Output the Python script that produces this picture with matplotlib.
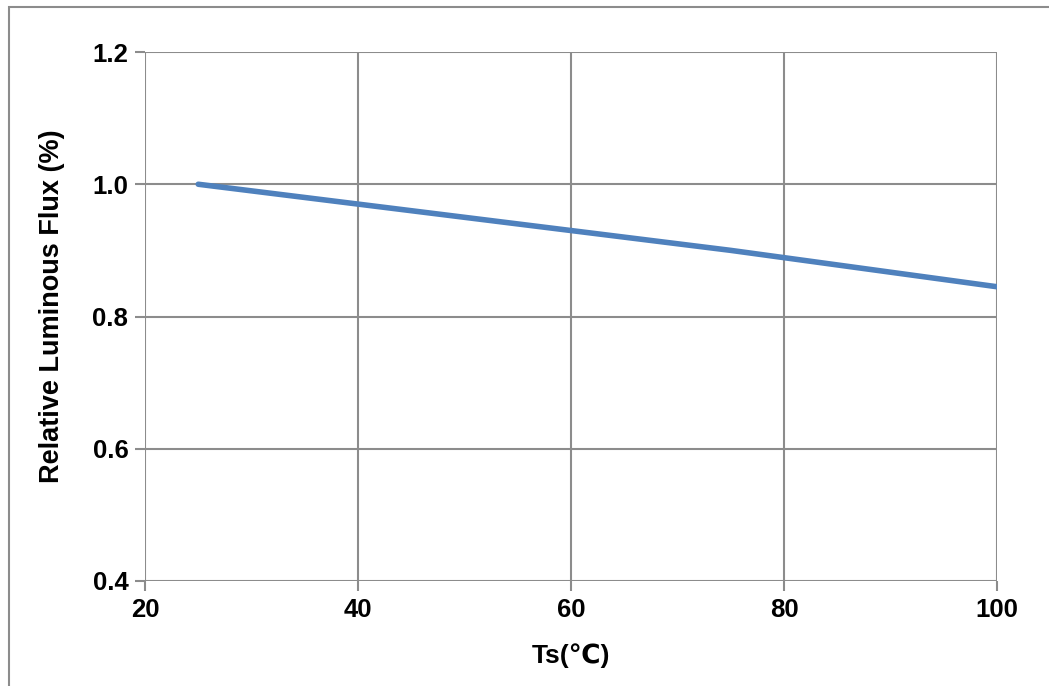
import matplotlib.pyplot as plt
from matplotlib.patches import Rectangle

plt.rcParams['font.family'] = ['Liberation Sans', 'DejaVu Sans']

# Relative luminous flux vs solder-point temperature
ts = [25, 50, 75, 100]
flux = [1.0, 0.95, 0.90, 0.845]

x_ticks = [20, 40, 60, 80, 100]
y_ticks = [0.4, 0.6, 0.8, 1.0, 1.2]

fig = plt.figure(figsize=(10.49, 6.86), dpi=100)
ax = fig.add_axes([145 / 1049, 1 - 581 / 686, 852 / 1049, 529 / 686])

# outer chart frame
fig.patches.append(Rectangle((9 / 1049, -0.1), 1.2, 1 - 7 / 686 + 0.1,
                             transform=fig.transFigure, fill=False,
                             edgecolor='#8c8c8c', linewidth=1.5))

ax.plot(ts, flux, color='#4f81bd', linewidth=4, solid_capstyle='round', zorder=3)

ax.set_xlim(20, 100)
ax.set_ylim(0.4, 1.2)
ax.set_xticks(x_ticks)
ax.set_yticks(y_ticks)
ax.set_xticklabels([str(v) for v in x_ticks])
ax.set_yticklabels([f"{v:.1f}" for v in y_ticks])
ax.grid(True, color='#8c8c8c', linewidth=1.5)
for s in ax.spines.values():
    s.set_visible(False)
ax.tick_params(axis='both', length=7, width=1.5, color='#8c8c8c',
               labelsize=18.5, pad=5)
for lab in ax.get_xticklabels() + ax.get_yticklabels():
    lab.set_fontweight('bold')

ax.set_xlabel('Ts(℃)', fontsize=19, fontweight='bold')
ax.set_ylabel('Relative Luminous Flux (%)', fontsize=19.5, fontweight='bold')
ax.xaxis.set_label_coords(0.5, -0.118)
ax.yaxis.set_label_coords(-0.094, 0.52)

fig.savefig('out.png', dpi=100)
